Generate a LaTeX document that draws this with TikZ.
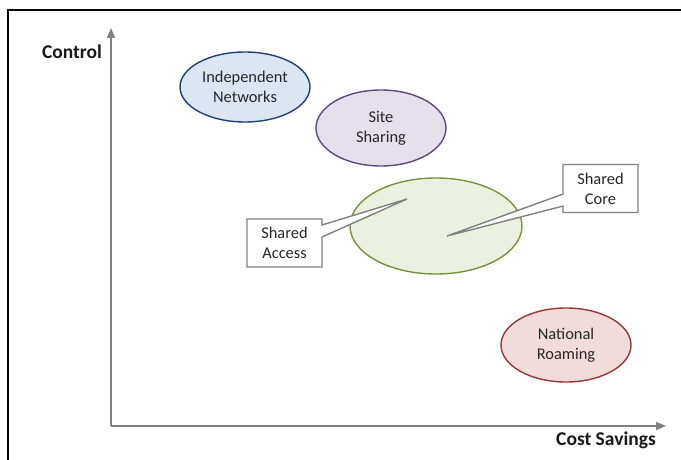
\documentclass[tikz,border=0pt]{standalone}
\usepackage{fontspec}
\setmainfont{Carlito}
\usetikzlibrary{shapes.geometric,shapes.callouts,arrows.meta,calc}
\definecolor{AxisGray}{HTML}{808080}
\definecolor{IndepFill}{HTML}{DCE6F2}
\definecolor{IndepLine}{HTML}{1F3F78}
\definecolor{SiteFill}{HTML}{E5E0EC}
\definecolor{SiteLine}{HTML}{5F497A}
\definecolor{SharedFill}{HTML}{EBF1DE}
\definecolor{SharedLine}{HTML}{77933C}
\definecolor{RoamFill}{HTML}{F2DCDB}
\definecolor{RoamLine}{HTML}{953735}
\begin{document}
\begin{tikzpicture}[x=1pt, y=-1pt,
  zone/.style={ellipse, draw, line width=1.4pt, inner sep=0pt, minimum width=130pt, minimum height=70pt, align=center, text=black!85, font=\fontsize{16.4}{20}\selectfont},
  tag/.style={rectangle callout, draw=AxisGray, fill=white, line width=1.4pt, minimum width=75pt, minimum height=48pt, inner sep=2pt, align=center, text=black!85, callout pointer width=12pt, font=\fontsize{16.4}{20}\selectfont},
  axis/.style={draw=AxisGray, line width=1.6pt, -{Triangle[length=10pt, width=8pt]}},
  axislabel/.style={text=black!90, font=\fontsize{19.5}{22}\selectfont\bfseries}]
\useasboundingbox (0,0) rectangle (681,460);
\clip (0,0) rectangle (681,460);
\draw[line width=2pt] (8,10) rectangle (720,500);
% axes
\coordinate (origin) at (111,426);
\coordinate (ytip) at (111,28);
\coordinate (xtip) at (666,426);
\draw[axis] (origin) -- (ytip);
\draw[axis] (origin) -- (xtip);
\node[axislabel] (ylab) at (72,52) {Control};
\node[axislabel] (xlab) at (606,440) {Cost Savings};
% sharing models
\node[zone, draw=IndepLine, fill=IndepFill] (indep) at (245,87) {Independent\\Networks};
\node[zone, draw=SiteLine, fill=SiteFill, minimum height=76pt] (site) at (381,128) {Site\\Sharing};
\node[zone, draw=SharedLine, fill=SharedFill, minimum width=172pt, minimum height=96pt] (shared) at (436,226) {};
\node[zone, draw=RoamLine, fill=RoamFill, minimum height=74pt] (roam) at (566,345) {National\\Roaming};
\node[tag, callout absolute pointer={($(shared.center)+(-29,-27)$)}] (access) at (284.5,243) {Shared\\Access};
\node[tag, callout absolute pointer={($(shared.center)+(11,10)$)}] (core) at (600.5,188.5) {Shared\\Core};
\end{tikzpicture}
\end{document}
